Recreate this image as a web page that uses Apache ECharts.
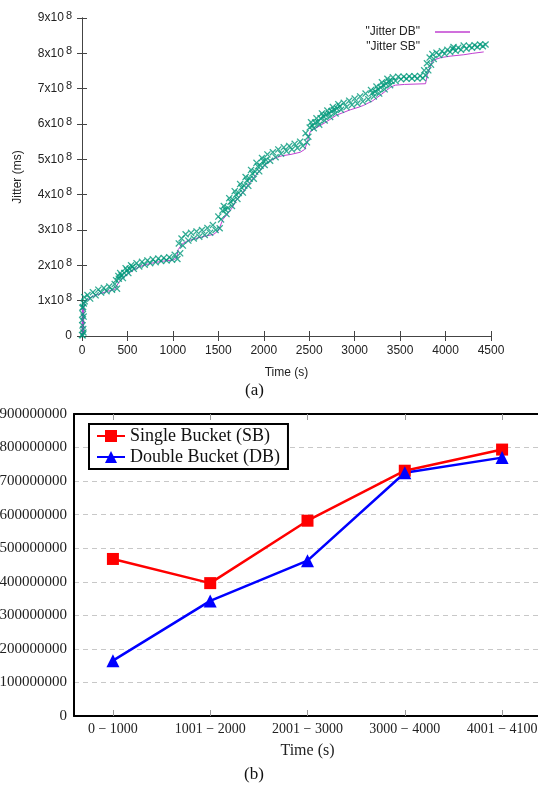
<!DOCTYPE html>
<html>
<head>
<meta charset="utf-8">
<script src="https://cdn.jsdelivr.net/npm/echarts@6/dist/echarts.min.js"></script>
<style>
  html, body { margin: 0; padding: 0; background: #fff; }
  #main { width: 538px; height: 787px; }
</style>
</head>
<body>
<div id="main"></div>
<script>
// ---- (a) jitter over time, values in units of 10^JITTER_EXP ms ----
const JITTER_EXP = 8;
const timeTicks = [0, 500, 1000, 1500, 2000, 2500, 3000, 3500, 4000, 4500];
const jitterTicks = [0, 1, 2, 3, 4, 5, 6, 7, 8, 9];

// double bucket trace: [time (s), jitter]
const jitterDB = [
  [0,0.00],[4,0.78],[8,0.02],[12,0.80],[16,0.05],[22,0.95],[30,1.00],[100,1.10],
  [200,1.20],[300,1.28],[360,1.32],[400,1.50],[450,1.65],[500,1.75],[560,1.86],
  [620,1.95],[700,2.02],[800,2.08],[900,2.12],[1000,2.15],[1040,2.20],[1060,2.45],
  [1100,2.60],[1150,2.68],[1250,2.76],[1350,2.82],[1450,2.88],[1500,2.98],[1550,3.30],
  [1600,3.45],[1650,3.62],[1700,3.85],[1750,4.00],[1800,4.18],[1850,4.35],[1900,4.52],
  [1950,4.66],[2000,4.80],[2050,4.92],[2100,5.00],[2150,5.06],[2200,5.10],[2300,5.14],
  [2400,5.20],[2450,5.28],[2480,5.50],[2510,5.78],[2550,5.85],[2650,6.00],[2700,6.08],
  [2800,6.25],[2850,6.30],[2950,6.40],[3050,6.48],[3100,6.53],[3200,6.66],[3300,6.85],
  [3350,6.95],[3400,7.05],[3450,7.10],[3550,7.12],[3780,7.14],[3800,7.40],[3850,7.75],
  [3880,7.82],[3950,7.88],[4050,7.92],[4200,7.96],[4300,8.00],[4420,8.04]
];

// single bucket samples: [time (s), jitter]
const jitterSB = [
  [0,0.03],[2,0.45],[4,0.80],[6,0.30],[8,0.02],[10,0.62],[12,0.82],[14,0.20],
  [16,0.10],[18,0.55],[20,0.92],[25,1.10],
  [30,0.98],[60,1.16],[90,1.06],[120,1.24],[150,1.15],[180,1.31],[210,1.23],
  [240,1.36],[270,1.27],[300,1.40],[330,1.31],[360,1.47],[375,1.58],[385,1.34],
  [400,1.70],[405,1.62],[420,1.78],[435,1.72],[450,1.64],[465,1.78],[480,1.92],
  [495,1.86],[510,1.78],[525,1.90],[540,2.00],[555,1.96],[570,1.90],
  [600,2.06],[630,1.97],[660,2.10],[690,2.02],[720,2.14],[750,2.06],[780,2.17],
  [810,2.09],[840,2.19],[870,2.12],[900,2.21],[930,2.14],[960,2.23],[990,2.16],
  [1020,2.30],[1050,2.18],[1065,2.62],[1080,2.34],[1095,2.76],[1110,2.56],
  [1140,2.88],[1170,2.70],[1200,2.92],[1230,2.76],[1260,2.96],[1290,2.81],
  [1320,3.00],[1350,2.86],[1380,3.06],[1410,2.92],[1440,3.14],[1470,3.00],
  [1500,3.38],[1515,3.05],[1530,3.30],[1545,3.55],[1560,3.68],[1575,3.58],
  [1590,3.45],[1605,3.62],[1620,3.90],[1635,3.80],[1650,3.68],[1665,3.85],
  [1680,4.10],[1695,4.00],[1710,3.88],[1725,4.05],[1740,4.30],[1755,4.20],
  [1770,4.06],[1785,4.25],[1800,4.50],[1815,4.40],[1830,4.25],[1845,4.45],
  [1860,4.70],[1875,4.60],[1890,4.45],[1905,4.65],[1920,4.90],[1935,4.80],
  [1950,4.66],[1965,4.82],[1980,5.04],[1995,4.95],[2010,4.84],[2025,4.98],
  [2040,5.14],[2070,4.96],[2100,5.20],[2130,5.06],
  [2160,5.28],[2190,5.16],[2220,5.34],[2250,5.23],[2280,5.38],[2310,5.28],
  [2340,5.44],[2370,5.32],[2400,5.50],[2430,5.38],[2460,5.74],[2475,5.48],
  [2490,5.64],[2505,5.90],[2520,6.05],[2535,5.95],[2550,5.88],[2565,6.04],
  [2580,6.16],[2595,6.06],[2610,5.98],[2625,6.16],[2640,6.30],[2655,6.22],
  [2670,6.10],[2685,6.26],[2700,6.38],[2715,6.30],[2730,6.20],[2745,6.36],
  [2760,6.48],[2775,6.40],[2790,6.30],[2805,6.44],[2820,6.56],[2835,6.50],
  [2850,6.40],[2880,6.60],[2910,6.48],[2940,6.66],[2970,6.54],[3000,6.72],
  [3030,6.58],[3060,6.78],[3090,6.64],[3120,6.86],[3150,6.70],[3180,6.96],
  [3195,6.88],[3210,6.78],[3225,6.92],[3240,7.06],[3255,6.98],[3270,6.86],
  [3285,7.03],[3300,7.18],[3315,7.10],[3330,6.98],[3345,7.14],[3360,7.28],
  [3375,7.20],[3390,7.10],[3405,7.22],[3420,7.32],[3450,7.22],[3480,7.34],
  [3510,7.27],[3540,7.34],
  [3570,7.28],[3600,7.35],[3630,7.29],[3660,7.35],[3690,7.29],[3720,7.36],
  [3750,7.30],[3765,7.52],[3780,7.38],[3795,7.72],[3810,7.52],[3825,7.88],
  [3840,7.68],[3855,7.98],[3870,7.84],[3900,8.02],[3930,7.95],[3960,8.06],
  [3990,7.99],[4020,8.10],[4050,8.04],[4080,8.13],[4110,8.07],[4140,8.16],
  [4170,8.10],[4200,8.22],[4230,8.13],[4260,8.21],[4290,8.16],[4320,8.23],
  [4350,8.18],[4380,8.25],[4410,8.20],[4440,8.25]
];

// ---- (b) jitter per time window ----
const periods = ['0 \u2212 1000', '1001 \u2212 2000', '2001 \u2212 3000', '3000 \u2212 4000', '4001 \u2212 4100'];
const singleBucket = [468000000, 396000000, 582000000, 731000000, 794000000];
const doubleBucket = [165000000, 343000000, 463000000, 725000000, 770000000];
const bucketTicks = [0, 100000000, 200000000, 300000000, 400000000, 500000000,
                     600000000, 700000000, 800000000, 900000000];

const SANS = 'Liberation Sans';
const SERIF = 'Liberation Serif';
const GP_FRAME = '#444';
const crossPath = 'path://M0,1.3L1.3,0L5,3.7L8.7,0L10,1.3L6.3,5L10,8.7L8.7,10L5,6.3L1.3,10L0,8.7L3.7,5Z';
const periodIdx = periods.map((_, i) => i);

const chart = echarts.init(document.getElementById('main'), null, { renderer: 'canvas' });

const gpAxisLine = { show: true, lineStyle: { color: GP_FRAME, width: 1 } };
const gpTick = { show: true, inside: true, length: 5, lineStyle: { color: GP_FRAME, width: 1 } };

const pgfFrame = { show: true, onZero: false, lineStyle: { color: '#000', width: 2 } };
const pgfTick = { show: true, inside: true, length: 6, customValues: periodIdx,
                  lineStyle: { color: '#999', width: 1 } };

chart.setOption({
  animation: false,
  backgroundColor: '#fff',
  grid: [
    { left: 82, top: 18, width: 409, height: 318, outerBoundsMode: 'none', containLabel: false },
    { left: 74, top: 414, width: 467, height: 302, outerBoundsMode: 'none', containLabel: false }
  ],
  xAxis: [
    {
      gridIndex: 0, type: 'value', position: 'bottom',
      min: timeTicks[0], max: timeTicks[timeTicks.length - 1], interval: timeTicks[1] - timeTicks[0],
      axisLine: gpAxisLine, axisTick: gpTick, splitLine: { show: false },
      axisLabel: { fontFamily: SANS, fontSize: 12, color: '#222', margin: 9, formatter: v => String(v) },
      name: 'Time (s)', nameLocation: 'middle', nameGap: 31,
      nameTextStyle: { fontFamily: SANS, fontSize: 12, color: '#222' }
    },
    {
      gridIndex: 0, type: 'value', position: 'top',
      min: timeTicks[0], max: timeTicks[timeTicks.length - 1], interval: timeTicks[1] - timeTicks[0],
      axisLine: gpAxisLine, axisTick: gpTick, axisLabel: { show: false }, splitLine: { show: false }
    },
    {
      gridIndex: 1, type: 'value', position: 'bottom', min: -0.4, max: 4.4,
      axisLine: pgfFrame, axisTick: pgfTick, splitLine: { show: false },
      axisLabel: {
        customValues: periodIdx, formatter: v => periods[Math.round(v)],
        fontFamily: SERIF, fontSize: 14, color: '#222', margin: 6
      },
      name: 'Time (s)', nameLocation: 'middle', nameGap: 27,
      nameTextStyle: { fontFamily: SERIF, fontSize: 16, color: '#222' }
    },
    {
      gridIndex: 1, type: 'value', position: 'top', min: -0.4, max: 4.4,
      axisLine: pgfFrame, axisTick: pgfTick, axisLabel: { show: false }, splitLine: { show: false }
    }
  ],
  yAxis: [
    {
      gridIndex: 0, type: 'value', position: 'left',
      min: jitterTicks[0], max: jitterTicks[jitterTicks.length - 1], interval: 1,
      axisLine: gpAxisLine, axisTick: gpTick, splitLine: { show: false },
      axisLabel: {
        margin: 10, color: '#222',
        formatter: v => v === 0 ? '0' : '{m|' + v + 'x10}{s|' + JITTER_EXP + '}',
        fontFamily: SANS, fontSize: 12,
        rich: {
          m: { fontFamily: SANS, fontSize: 12, color: '#222' },
          s: { fontFamily: SANS, fontSize: 11, color: '#222', padding: [0, 0, 5, 2] }
        }
      },
      name: 'Jitter (ms)', nameLocation: 'middle', nameGap: 58, nameRotate: 90,
      nameTextStyle: { fontFamily: SANS, fontSize: 12, color: '#222' }
    },
    {
      gridIndex: 0, type: 'value', position: 'right',
      min: jitterTicks[0], max: jitterTicks[jitterTicks.length - 1], interval: 1,
      axisLine: gpAxisLine, axisTick: gpTick, axisLabel: { show: false }, splitLine: { show: false }
    },
    {
      gridIndex: 1, type: 'value', position: 'left',
      min: bucketTicks[0], max: bucketTicks[bucketTicks.length - 1], interval: bucketTicks[1] - bucketTicks[0],
      axisLine: pgfFrame, axisTick: { show: false },
      splitLine: { show: true, lineStyle: { color: '#c8c8c8', width: 1, type: [5, 4] } },
      axisLabel: { fontFamily: SERIF, fontSize: 15, color: '#222', margin: 7, formatter: v => String(v) }
    }
  ],
  legend: [
    {
      data: [{ name: '"Jitter DB"', icon: 'rect' }],
      right: 63, top: 21, align: 'right', itemWidth: 35, itemHeight: 1.5,
      textStyle: { fontFamily: SANS, fontSize: 12, color: '#222', padding: [0, 10, 0, 0] }
    },
    {
      data: [{ name: '"Jitter SB"', icon: crossPath }],
      right: 76, top: 36, align: 'right', itemWidth: 7, itemHeight: 7,
      textStyle: { fontFamily: SANS, fontSize: 12, color: '#222', padding: [0, 25, 0, 0] }
    },
    {
      data: ['Single Bucket (SB)', 'Double Bucket (DB)'],
      orient: 'vertical', left: 89, top: 424, itemWidth: 28, itemHeight: 15, itemGap: 3,
      padding: [3, 8, 3, 7], borderColor: '#000', borderWidth: 2, backgroundColor: '#fff',
      textStyle: { fontFamily: SERIF, fontSize: 18, color: '#111' }
    }
  ],
  series: [
    {
      name: '"Jitter DB"', type: 'line', xAxisIndex: 0, yAxisIndex: 0,
      data: jitterDB, showSymbol: false, symbol: 'none', color: '#c040d0',
      lineStyle: { color: '#c040d0', width: 1 }, z: 2
    },
    {
      name: '"Jitter SB"', type: 'scatter', xAxisIndex: 0, yAxisIndex: 0,
      data: jitterSB, symbol: crossPath, symbolSize: 7, color: '#00987a',
      itemStyle: { color: '#00987a' }, z: 3
    },
    {
      name: 'Single Bucket (SB)', type: 'line', xAxisIndex: 2, yAxisIndex: 2,
      data: singleBucket.map((v, i) => [periodIdx[i], v]),
      symbol: 'rect', symbolSize: 12, color: '#ff0000',
      lineStyle: { color: '#ff0000', width: 2.5 }, itemStyle: { color: '#ff0000' }, z: 3
    },
    {
      name: 'Double Bucket (DB)', type: 'line', xAxisIndex: 2, yAxisIndex: 2,
      data: doubleBucket.map((v, i) => [periodIdx[i], v]),
      symbol: 'triangle', symbolSize: 13, color: '#0000ff',
      lineStyle: { color: '#0000ff', width: 2.5 }, itemStyle: { color: '#0000ff' }, z: 3
    }
  ],
  graphic: [
    { type: 'text', left: 245, top: 382, style: { text: '(a)', font: '17px "Liberation Serif"', fill: '#111' } },
    { type: 'text', left: 244, top: 766, style: { text: '(b)', font: '17px "Liberation Serif"', fill: '#111' } }
  ]
});
</script>
</body>
</html>
